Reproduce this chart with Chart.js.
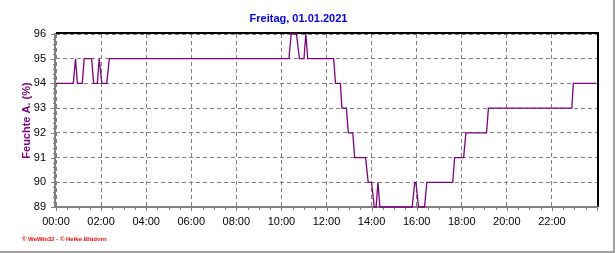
<!DOCTYPE html>
<html>
<head>
<meta charset="utf-8">
<script src="https://cdn.jsdelivr.net/npm/chart.js@4/dist/chart.umd.min.js"></script>
<style>
  body { margin: 0; background: #fff; }
  #wrap { position: relative; width: 616px; height: 253px; }
  #footer { position: absolute; left: 22px; top: 235px; font: bold 6px 'Liberation Sans', Arial, sans-serif; line-height: 8px; color: #ff0000; white-space: nowrap; }
</style>
</head>
<body>
<div id="wrap">
  <canvas id="chart" width="616" height="253"></canvas>
  <div id="footer">© WeWin32 - © Heike Blüdorn</div>
</div>
<script>
// minutes after midnight and humidity (%) at each change point
const minutes = [0, 46, 52, 57, 70, 75, 95, 100, 110, 115, 117, 122, 135, 142,
  620, 626, 640, 648, 660, 665, 670, 739, 744, 757, 761, 773, 778, 790, 795,
  824, 831, 840, 847, 852, 857, 862, 948, 955, 958, 965, 981, 987, 1056, 1061,
  1085, 1091, 1146, 1151, 1373, 1377, 1438];
const humidity = [94, 94, 95, 94, 94, 95, 95, 94, 94, 95, 95, 94, 94, 95,
  95, 96, 96, 95, 95, 96, 95, 95, 94, 94, 93, 93, 92, 92, 91,
  91, 90, 90, 89, 89, 90, 89, 89, 90, 90, 89, 89, 90, 90, 91,
  91, 92, 92, 93, 93, 94, 94];
const yTicks = [89, 90, 91, 92, 93, 94, 95, 96];
const xTickStep = 120; // minutes between labels

const points = minutes.map((m, i) => ({ x: m, y: humidity[i] }));
const fontFamily = "'Liberation Sans', Arial, sans-serif";

// axes, small ticks and the outer frame
const framePlugin = {
    id: 'frame',
    beforeDatasetsDraw(chart) {
        const { ctx, chartArea: a, scales } = chart;
        ctx.save();
        ctx.strokeStyle = '#808080';
        ctx.lineWidth = 1;
        // x ticks every 30 min
        for (let m = 0; m <= 1440; m += 30) {
            const px = Math.round(scales.x.getPixelForValue(m)) + 0.5;
            const len = m % 120 === 0 ? 4 : 3;
            ctx.beginPath();
            ctx.moveTo(px, a.bottom);
            ctx.lineTo(px, a.bottom + len);
            ctx.stroke();
        }
        // y ticks every 0.2
        for (let k = 0; k <= 35; k++) {
            const v = 89 + k * 0.2;
            const py = Math.round(scales.y.getPixelForValue(v)) + 0.5;
            const len = k % 5 === 0 ? 4 : 2;
            ctx.beginPath();
            ctx.moveTo(a.left - len - 1, py);
            ctx.lineTo(a.left, py);
            ctx.stroke();
        }
        // top and right black lines
        ctx.strokeStyle = '#000';
        ctx.lineWidth = 2;
        ctx.beginPath();
        ctx.moveTo(a.left, a.top - 1);
        ctx.lineTo(a.right + 1, a.top - 1);
        ctx.lineTo(a.right + 1, a.bottom);
        ctx.stroke();
        // left and bottom gray axes
        ctx.strokeStyle = '#808080';
        ctx.beginPath();
        ctx.moveTo(a.left - 1, a.top - 1);
        ctx.lineTo(a.left - 1, a.bottom);
        ctx.lineTo(a.right + 1, a.bottom);
        ctx.stroke();
        // outer frame right and bottom
        ctx.strokeStyle = '#a0a0a0';
        ctx.beginPath();
        ctx.moveTo(614, 0);
        ctx.lineTo(614, 252);
        ctx.lineTo(0, 252);
        ctx.stroke();
        ctx.restore();
    }
};

const ctx = document.getElementById('chart').getContext('2d');
new Chart(ctx, {
    type: 'line',
    data: {
        datasets: [{
            data: points,
            borderColor: '#800080',
            borderWidth: 1.3,
            pointRadius: 0,
            tension: 0,
            fill: false,
            clip: 3
        }]
    },
    options: {
        responsive: false,
        animation: false,
        events: [],
        layout: { padding: { top: 0, right: 19, bottom: 0, left: 0 } },
        plugins: {
            legend: { display: false },
            tooltip: { enabled: false },
            title: {
                display: true,
                text: 'Freitag, 01.01.2021',
                color: '#0000ff',
                font: { family: fontFamily, size: 11, weight: 'bold' },
                padding: { top: 12.4, bottom: 8.4 }
            }
        },
        scales: {
            x: {
                type: 'linear',
                min: 0,
                max: 1440,
                afterFit(scale) { scale.height = 46; },
                afterBuildTicks(scale) {
                    scale.ticks = [];
                    for (let m = 0; m <= 1440; m += xTickStep) scale.ticks.push({ value: m });
                },
                ticks: {
                    color: '#000',
                    font: { family: fontFamily, size: 11 },
                    padding: 8,
                    maxRotation: 0,
                    autoSkip: false,
                    callback(v) {
                        if (v >= 1440) return '';
                        const h = Math.floor(v / 60);
                        return String(h).padStart(2, '0') + ':00';
                    }
                },
                grid: { color: '#808080', lineWidth: 1, drawTicks: false },
                border: { display: false, dash: [4, 3] }
            },
            y: {
                min: 89,
                max: 96,
                afterFit(scale) { scale.width = 56; },
                afterBuildTicks(scale) {
                    scale.ticks = yTicks.map(v => ({ value: v }));
                },
                ticks: {
                    color: '#000',
                    font: { family: fontFamily, size: 11 },
                    padding: 10
                },
                title: {
                    display: true,
                    text: 'Feuchte A. (%)',
                    color: '#800080',
                    font: { family: fontFamily, size: 11, weight: 'bold' },
                    padding: { top: 20, bottom: 0 }
                },
                grid: { color: '#808080', lineWidth: 1, drawTicks: false },
                border: { display: false, dash: [4, 3] }
            }
        }
    },
    plugins: [framePlugin]
});
</script>
</body>
</html>
